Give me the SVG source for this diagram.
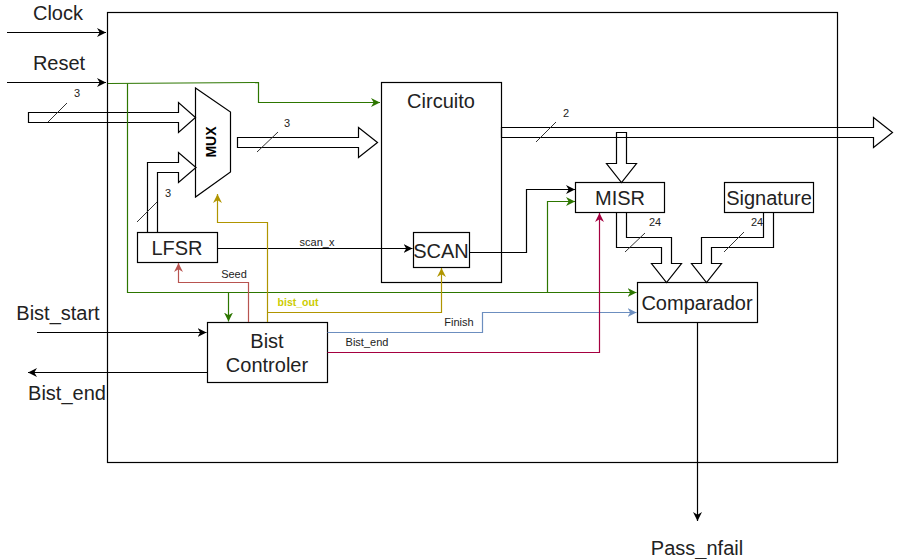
<svg xmlns="http://www.w3.org/2000/svg" width="898" height="559" viewBox="0 0 898 559">
<defs>
<style>
.box{fill:#fff;stroke:#000;stroke-width:1.2}
.bus{fill:none;stroke:#000;stroke-width:1.2}
.ln{fill:none;stroke-width:1.2}
.t{font-family:"Liberation Sans",Arial,sans-serif;font-size:20px;fill:#222;text-anchor:middle}
.s{font-family:"Liberation Sans",Arial,sans-serif;font-size:11px;fill:#222;text-anchor:middle}
.sl{stroke:#333;stroke-width:1}
</style>
<marker id="ak" viewBox="0 0 10 10" refX="10" refY="5" markerUnits="userSpaceOnUse" markerWidth="9" markerHeight="9" orient="auto"><path d="M0,0 L10,5 L0,10 L3,5 z" fill="#000"/></marker>
<marker id="ag" viewBox="0 0 10 10" refX="10" refY="5" markerUnits="userSpaceOnUse" markerWidth="9" markerHeight="9" orient="auto"><path d="M0,0 L10,5 L0,10 L3,5 z" fill="#2D7600"/></marker>
<marker id="ay" viewBox="0 0 10 10" refX="10" refY="5" markerUnits="userSpaceOnUse" markerWidth="9" markerHeight="9" orient="auto"><path d="M0,0 L10,5 L0,10 L3,5 z" fill="#B09500"/></marker>
<marker id="ar" viewBox="0 0 10 10" refX="10" refY="5" markerUnits="userSpaceOnUse" markerWidth="9" markerHeight="9" orient="auto"><path d="M0,0 L10,5 L0,10 L3,5 z" fill="#b85450"/></marker>
<marker id="ac" viewBox="0 0 10 10" refX="10" refY="5" markerUnits="userSpaceOnUse" markerWidth="9" markerHeight="9" orient="auto"><path d="M0,0 L10,5 L0,10 L3,5 z" fill="#A50040"/></marker>
<marker id="ab" viewBox="0 0 10 10" refX="10" refY="5" markerUnits="userSpaceOnUse" markerWidth="9" markerHeight="9" orient="auto"><path d="M0,0 L10,5 L0,10 L3,5 z" fill="#6c8ebf"/></marker>
</defs>
<rect width="898" height="559" fill="#fff"/>

<g id="system">
<rect x="107.5" y="12.5" width="730" height="450" fill="none" stroke="#000" stroke-width="1.2"/>
</g>

<g id="circuito"><rect class="box" x="381.5" y="82.5" width="120" height="200"/><text class="t" x="441" y="108">Circuito</text></g>
<g id="scan"><rect class="box" x="413.5" y="232.5" width="56" height="35"/><text class="t" x="441" y="258">SCAN</text></g>
<g id="lfsr"><rect class="box" x="137.5" y="232.5" width="80" height="30"/><text class="t" x="177" y="255">LFSR</text></g>
<g id="bistctl"><rect class="box" x="207.5" y="322.5" width="120" height="60"/><text class="t" x="267" y="348">Bist</text><text class="t" x="267" y="372">Controler</text></g>
<g id="misr"><rect class="box" x="575.5" y="182.5" width="89" height="30"/><text class="t" x="620" y="205">MISR</text></g>
<g id="signature"><rect class="box" x="724.5" y="182.5" width="89" height="30"/><text class="t" x="769" y="205">Signature</text></g>
<g id="comparador"><rect class="box" x="637.5" y="282.5" width="120" height="40"/><text class="t" x="697" y="310">Comparador</text></g>
<g id="mux"><polygon points="195.5,88 230.5,112 230.5,172 195.5,197" fill="#fff" stroke="#000" stroke-width="1.2"/><text transform="translate(216,142) rotate(-90)" text-anchor="middle" font-family="Liberation Sans,Arial,sans-serif" font-size="14" font-weight="bold" fill="#000">MUX</text></g>

<g id="connectors">
<!-- buses -->
<polygon class="bus" points="28.5,112.5 178.5,112.5 178.5,102.5 195.5,117.5 178.5,132.5 178.5,122.5 28.5,122.5"/>
<polyline class="bus" points="147.5,232 147.5,162.5 178.5,162.5 178.5,152.5 196,167.5 178.5,182.5 178.5,172.5 157.5,172.5 157.5,232"/>
<polygon class="bus" points="237.5,137.5 358.5,137.5 358.5,127.5 377.5,142.5 358.5,157.5 358.5,147.5 237.5,147.5"/>
<polygon class="bus" points="501.5,127.5 873.5,127.5 873.5,117.5 892.5,132.5 873.5,147.5 873.5,137.5 501.5,137.5"/>
<polygon class="bus" points="616.5,132.5 626.5,132.5 626.5,163.5 636.5,163.5 621.5,182.5 606.5,163.5 616.5,163.5"/>
<polyline class="bus" points="616.5,212.5 616.5,247.5 661.5,247.5 661.5,263.5 651.5,263.5 666.5,282.5 681.5,263.5 671.5,263.5 671.5,237.5 626.5,237.5 626.5,212.5"/>
<polyline class="bus" points="773.5,212.5 773.5,247.5 711.5,247.5 711.5,263.5 721.5,263.5 706.5,282.5 691.5,263.5 701.5,263.5 701.5,237.5 763.5,237.5 763.5,212.5"/>
<!-- bus width marks -->
<line class="sl" x1="48" y1="122" x2="67" y2="103"/>
<line class="sl" x1="137" y1="222" x2="157" y2="202"/>
<line class="sl" x1="257" y1="152" x2="278" y2="132"/>
<line class="sl" x1="536" y1="142" x2="556" y2="122"/>
<line class="sl" x1="625" y1="252" x2="645" y2="233"/>
<line class="sl" x1="724" y1="252" x2="744" y2="232"/>
<text class="s" x="77" y="97">3</text>
<text class="s" x="168" y="197">3</text>
<text class="s" x="287" y="127">3</text>
<text class="s" x="566" y="117">2</text>
<text class="s" x="655" y="226">24</text>
<text class="s" x="757" y="226">24</text>

<!-- black -->
<path class="ln" stroke="#000" d="M7,32.5 H106" marker-end="url(#ak)"/>
<path class="ln" stroke="#000" d="M7,82.5 H106" marker-end="url(#ak)"/>
<path class="ln" stroke="#000" d="M217.5,248.5 H412.5" marker-end="url(#ak)"/>
<path class="ln" stroke="#000" d="M469.5,252.5 H526.5 V189.5 H575" marker-end="url(#ak)"/>
<path class="ln" stroke="#000" d="M697.5,322.5 V521" marker-end="url(#ak)"/>
<path class="ln" stroke="#000" d="M37,332.5 H206.5" marker-end="url(#ak)"/>
<path class="ln" stroke="#000" d="M207.5,372.5 H28" marker-end="url(#ak)"/>
<text class="s" x="317" y="246">scan_x</text>

<!-- green -->
<path class="ln" stroke="#2D7600" d="M108,83.5 L258.5,82.5 V102.5 H380" marker-end="url(#ag)"/>
<path class="ln" stroke="#2D7600" d="M127.5,83.5 V292.5 H636.5" marker-end="url(#ag)"/>
<path class="ln" stroke="#2D7600" d="M228.5,292.5 V321.5" marker-end="url(#ag)"/>
<path class="ln" stroke="#2D7600" d="M547.5,292.5 V201.5 H575" marker-end="url(#ag)"/>

<!-- seed -->
<path class="ln" stroke="#b85450" d="M248.5,322 V282.5 H178.5 V263" marker-end="url(#ar)"/>
<text class="s" x="234" y="278">Seed</text>

<!-- yellow -->
<path class="ln" stroke="#B09500" d="M267.5,322 V222.5 H217.5 V194" marker-end="url(#ay)"/>
<path class="ln" stroke="#B09500" d="M267.5,312.5 H441.5 V268" marker-end="url(#ay)"/>
<text x="298" y="306" text-anchor="middle" font-family="Liberation Sans,Arial,sans-serif" font-size="10.5" font-weight="bold" fill="#CCCC00">bist_out</text>

<!-- finish -->
<path class="ln" stroke="#6c8ebf" d="M327.5,332.5 H482.5 V312.5 H636.5" marker-end="url(#ab)"/>
<text class="s" x="459" y="326">Finish</text>

<!-- bist_end -->
<path class="ln" stroke="#A50040" d="M327.5,352.5 H599.5 V213" marker-end="url(#ac)"/>
<text class="s" x="367" y="346">Bist_end</text>
</g>

<g id="labels">
<text class="t" x="58" y="20">Clock</text>
<text class="t" x="59" y="70">Reset</text>
<text class="t" x="58" y="320">Bist_start</text>
<text class="t" x="67" y="400">Bist_end</text>
<text class="t" x="697" y="555">Pass_nfail</text>
</g>
</svg>
